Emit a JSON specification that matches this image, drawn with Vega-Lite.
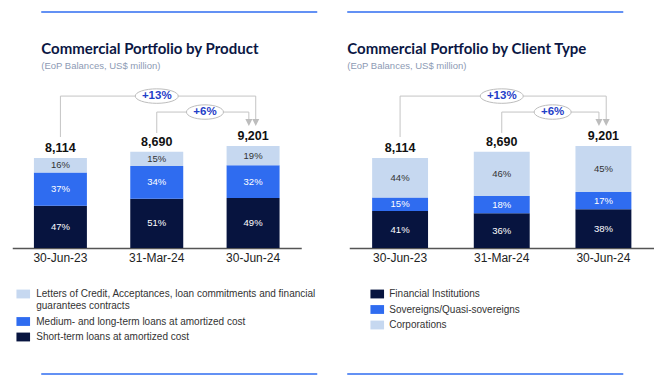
{
  "$schema": "https://vega.github.io/schema/vega-lite/v6.json",
  "background": "white",
  "padding": {"left": 12.25, "top": 11, "right": 0, "bottom": 0},
  "bounds": "flush",
  "spacing": 48,
  "config": {
    "view": {"stroke": null},
    "font": "Liberation Sans",
    "title": {"font": "Lato", "fontSize": 15, "fontWeight": "bold", "color": "#0b1744", "subtitleFont": "Liberation Sans", "subtitleFontSize": 9.5, "subtitleColor": "#8d9ab4", "subtitlePadding": 4, "anchor": "start", "frame": "group", "offset": -59},
    "axisX": {"title": null, "labelFont": "Liberation Sans", "labelFontSize": 12, "labelColor": "#222222", "domainColor": "#555555", "domainWidth": 1.5, "ticks": false, "labelPadding": 4, "labelAngle": 0},
    "legend": {"orient": "none", "symbolType": "M-1,-0.65H1V0.65H-1Z", "symbolSize": 185, "symbolStrokeWidth": 0, "labelFont": "Liberation Sans", "labelFontSize": 10, "labelColor": "#333333", "labelLimit": 400, "rowPadding": 3.5, "padding": 0}
  },
  "resolve": {"scale": {"x": "independent", "y": "independent", "color": "independent"}, "legend": {"color": "independent"}},
  "hconcat": [
    {
      "width": 289,
      "height": 168,
      "title": {"text": "Commercial Portfolio by Product", "subtitle": "(EoP Balances, US$ million)", "dx": 29},
      "layer": [
        {
          "data": {"values": [
            {"date": "30-Jun-23", "product": "Short-term loans at amortized cost", "k": 1, "value": 3814, "pct": "47%"},
            {"date": "30-Jun-23", "product": "Medium- and long-term loans at amortized cost", "k": 2, "value": 3002, "pct": "37%"},
            {"date": "30-Jun-23", "product": "Letters of Credit, Acceptances, loan commitments and financial guarantees contracts", "k": 3, "value": 1298, "pct": "16%"},
            {"date": "31-Mar-24", "product": "Short-term loans at amortized cost", "k": 1, "value": 4432, "pct": "51%"},
            {"date": "31-Mar-24", "product": "Medium- and long-term loans at amortized cost", "k": 2, "value": 2955, "pct": "34%"},
            {"date": "31-Mar-24", "product": "Letters of Credit, Acceptances, loan commitments and financial guarantees contracts", "k": 3, "value": 1303, "pct": "15%"},
            {"date": "30-Jun-24", "product": "Short-term loans at amortized cost", "k": 1, "value": 4508, "pct": "49%"},
            {"date": "30-Jun-24", "product": "Medium- and long-term loans at amortized cost", "k": 2, "value": 2944, "pct": "32%"},
            {"date": "30-Jun-24", "product": "Letters of Credit, Acceptances, loan commitments and financial guarantees contracts", "k": 3, "value": 1749, "pct": "19%"}
          ]},
          "transform": [
            {"stack": "value", "groupby": ["date"], "sort": [{"field": "k", "order": "ascending"}], "as": ["v0", "v1"]},
            {"calculate": "(datum.v0 + datum.v1) / 2", "as": "mid"}
          ],
          "layer": [
            {
              "mark": {"type": "bar"},
              "encoding": {
                "x": {"field": "date", "type": "ordinal", "scale": {"domain": ["30-Jun-23", "31-Mar-24", "30-Jun-24"], "paddingInner": 0.45, "paddingOuter": 0.225}, "axis": {"title": null}},
                "y": {"field": "v1", "type": "quantitative", "scale": {"domain": [0, 15150], "nice": false}, "axis": null},
                "y2": {"field": "v0"},
                "color": {"field": "product", "type": "nominal",
                  "scale": {"domain": ["Letters of Credit, Acceptances, loan commitments and financial guarantees contracts", "Medium- and long-term loans at amortized cost", "Short-term loans at amortized cost"], "range": ["#c6d8f0", "#2f6cf0", "#07143f"]},
                  "legend": {"title": null, "legendX": 4, "legendY": 207, "labelOffset": 6,
                    "labelExpr": "datum.label == 'Letters of Credit, Acceptances, loan commitments and financial guarantees contracts' ? ['Letters of Credit, Acceptances, loan commitments and financial', ' guarantees contracts'] : datum.label"}}
              }
            },
            {
              "mark": {"type": "text", "font": "Liberation Sans", "fontSize": 9.5},
              "encoding": {
                "x": {"field": "date", "type": "ordinal"},
                "y": {"field": "mid", "type": "quantitative"},
                "text": {"field": "pct"},
                "color": {"condition": {"test": "datum.k == 3", "value": "#333333"}, "value": "#ffffff"}
              }
            },
            {
              "mark": {"type": "text", "font": "Liberation Sans", "fontSize": 12.5, "fontWeight": "bold", "dy": -10, "color": "#111111"},
              "encoding": {
                "x": {"field": "date", "type": "ordinal"},
                "y": {"aggregate": "sum", "field": "value", "type": "quantitative"},
                "text": {"aggregate": "sum", "field": "value", "type": "quantitative", "format": ","}
              }
            }
          ]
        },
        {
          "data": {"values": [{}]},
          "layer": [
            {"mark": {"type": "rule", "color": "#2f6cf0", "strokeWidth": 1.5}, "encoding": {"x": {"datum": "30-Jun-23", "type": "ordinal", "bandPosition": 0.138}, "x2": {"datum": "30-Jun-24", "bandPosition": 1.711}, "y": {"datum": 21282, "type": "quantitative"}}},
            {"mark": {"type": "rule", "color": "#2f6cf0", "strokeWidth": 1.5}, "encoding": {"x": {"datum": "30-Jun-23", "type": "ordinal", "bandPosition": 0.138}, "x2": {"datum": "30-Jun-24", "bandPosition": 1.711}, "y": {"datum": -11362, "type": "quantitative"}}},
            {"mark": {"type": "rule", "color": "#c4c4c4", "strokeWidth": 1}, "encoding": {"x": {"datum": "30-Jun-23", "type": "ordinal", "bandPosition": 0.5}, "x2": {"datum": "30-Jun-24", "bandPosition": 0.55}, "y": {"datum": 13700, "type": "quantitative"}}},
            {"mark": {"type": "rule", "color": "#c4c4c4", "strokeWidth": 1}, "encoding": {"x": {"datum": "30-Jun-23", "type": "ordinal", "bandPosition": 0.5}, "y": {"datum": 13700, "type": "quantitative"}, "y2": {"datum": 10010}}},
            {"mark": {"type": "rule", "color": "#c4c4c4", "strokeWidth": 1}, "encoding": {"x": {"datum": "30-Jun-24", "type": "ordinal", "bandPosition": 0.55}, "y": {"datum": 13700, "type": "quantitative"}, "y2": {"datum": 11630}}},
            {"mark": {"type": "rule", "color": "#c4c4c4", "strokeWidth": 1}, "encoding": {"x": {"datum": "31-Mar-24", "type": "ordinal", "bandPosition": 0.5}, "x2": {"datum": "30-Jun-24", "bandPosition": 0.42}, "y": {"datum": 12260, "type": "quantitative"}}},
            {"mark": {"type": "rule", "color": "#c4c4c4", "strokeWidth": 1}, "encoding": {"x": {"datum": "31-Mar-24", "type": "ordinal", "bandPosition": 0.5}, "y": {"datum": 12260, "type": "quantitative"}, "y2": {"datum": 10370}}},
            {"mark": {"type": "rule", "color": "#c4c4c4", "strokeWidth": 1}, "encoding": {"x": {"datum": "30-Jun-24", "type": "ordinal", "bandPosition": 0.42}, "y": {"datum": 12260, "type": "quantitative"}, "y2": {"datum": 11630}}},
            {"mark": {"type": "point", "shape": "M-1,-1L1,-1L0,1Z", "size": 49, "filled": true, "color": "#bdbdbd", "opacity": 1}, "encoding": {"x": {"datum": "30-Jun-24", "type": "ordinal", "bandPosition": 0.55}, "y": {"datum": 11318, "type": "quantitative"}}},
            {"mark": {"type": "point", "shape": "M-1,-1L1,-1L0,1Z", "size": 49, "filled": true, "color": "#bdbdbd", "opacity": 1}, "encoding": {"x": {"datum": "30-Jun-24", "type": "ordinal", "bandPosition": 0.42}, "y": {"datum": 11318, "type": "quantitative"}}},
            {"mark": {"type": "point", "shape": "M-1,0A1,0.337,0,1,0,1,0A1,0.337,0,1,0,-1,0Z", "size": 1849, "filled": true, "fill": "#ffffff", "stroke": "#bdbdbd", "strokeWidth": 1, "opacity": 1}, "encoding": {"x": {"datum": "31-Mar-24", "type": "ordinal", "bandPosition": 0.5}, "y": {"datum": 13700, "type": "quantitative"}}},
            {"mark": {"type": "point", "shape": "M-1,0A1,0.39,0,1,0,1,0A1,0.39,0,1,0,-1,0Z", "size": 1369, "filled": true, "fill": "#ffffff", "stroke": "#bdbdbd", "strokeWidth": 1, "opacity": 1}, "encoding": {"x": {"datum": "31-Mar-24", "type": "ordinal", "bandPosition": 1.41}, "y": {"datum": 12260, "type": "quantitative"}}},
            {"mark": {"type": "text", "font": "Liberation Sans", "fontSize": 11.5, "fontWeight": "bold", "color": "#1f40c8"}, "encoding": {"x": {"datum": "31-Mar-24", "type": "ordinal", "bandPosition": 0.5}, "y": {"datum": 13700, "type": "quantitative"}, "text": {"value": "+13%"}}},
            {"mark": {"type": "text", "font": "Liberation Sans", "fontSize": 11.5, "fontWeight": "bold", "color": "#1f40c8"}, "encoding": {"x": {"datum": "31-Mar-24", "type": "ordinal", "bandPosition": 1.41}, "y": {"datum": 12260, "type": "quantitative"}, "text": {"value": "+6%"}}}
          ]
        }
      ]
    },
    {
      "width": 305,
      "height": 168,
      "title": {"text": "Commercial Portfolio by Client Type", "subtitle": "(EoP Balances, US$ million)", "dx": -2},
      "layer": [
        {
          "data": {"values": [
            {"date": "30-Jun-23", "client": "Financial Institutions", "k": 1, "value": 3327, "pct": "41%"},
            {"date": "30-Jun-23", "client": "Sovereigns/Quasi-sovereigns", "k": 2, "value": 1217, "pct": "15%"},
            {"date": "30-Jun-23", "client": "Corporations", "k": 3, "value": 3570, "pct": "44%"},
            {"date": "31-Mar-24", "client": "Financial Institutions", "k": 1, "value": 3128, "pct": "36%"},
            {"date": "31-Mar-24", "client": "Sovereigns/Quasi-sovereigns", "k": 2, "value": 1564, "pct": "18%"},
            {"date": "31-Mar-24", "client": "Corporations", "k": 3, "value": 3998, "pct": "46%"},
            {"date": "30-Jun-24", "client": "Financial Institutions", "k": 1, "value": 3496, "pct": "38%"},
            {"date": "30-Jun-24", "client": "Sovereigns/Quasi-sovereigns", "k": 2, "value": 1564, "pct": "17%"},
            {"date": "30-Jun-24", "client": "Corporations", "k": 3, "value": 4141, "pct": "45%"}
          ]},
          "transform": [
            {"stack": "value", "groupby": ["date"], "sort": [{"field": "k", "order": "ascending"}], "as": ["v0", "v1"]},
            {"calculate": "(datum.v0 + datum.v1) / 2", "as": "mid"}
          ],
          "layer": [
            {
              "mark": {"type": "bar"},
              "encoding": {
                "x": {"field": "date", "type": "ordinal", "scale": {"domain": ["30-Jun-23", "31-Mar-24", "30-Jun-24"], "paddingInner": 0.45, "paddingOuter": 0.225}, "axis": {"title": null}},
                "y": {"field": "v1", "type": "quantitative", "scale": {"domain": [0, 15150], "nice": false}, "axis": null},
                "y2": {"field": "v0"},
                "color": {"field": "client", "type": "nominal",
                  "scale": {"domain": ["Financial Institutions", "Sovereigns/Quasi-sovereigns", "Corporations"], "range": ["#07143f", "#2f6cf0", "#c6d8f0"]},
                  "legend": {"title": null, "legendX": 21, "legendY": 207, "labelOffset": 5}}
              }
            },
            {
              "mark": {"type": "text", "font": "Liberation Sans", "fontSize": 9.5},
              "encoding": {
                "x": {"field": "date", "type": "ordinal"},
                "y": {"field": "mid", "type": "quantitative"},
                "text": {"field": "pct"},
                "color": {"condition": {"test": "datum.k == 3", "value": "#333333"}, "value": "#ffffff"}
              }
            },
            {
              "mark": {"type": "text", "font": "Liberation Sans", "fontSize": 12.5, "fontWeight": "bold", "dy": -10, "color": "#111111"},
              "encoding": {
                "x": {"field": "date", "type": "ordinal"},
                "y": {"aggregate": "sum", "field": "value", "type": "quantitative"},
                "text": {"aggregate": "sum", "field": "value", "type": "quantitative", "format": ","}
              }
            }
          ]
        },
        {
          "data": {"values": [{}]},
          "layer": [
            {"mark": {"type": "rule", "color": "#2f6cf0", "strokeWidth": 1.5}, "encoding": {"x": {"datum": "30-Jun-23", "type": "ordinal", "bandPosition": -0.445}, "x2": {"datum": "30-Jun-24", "bandPosition": 0.855}, "y": {"datum": 21282, "type": "quantitative"}}},
            {"mark": {"type": "rule", "color": "#2f6cf0", "strokeWidth": 1.5}, "encoding": {"x": {"datum": "30-Jun-23", "type": "ordinal", "bandPosition": -0.445}, "x2": {"datum": "30-Jun-24", "bandPosition": 0.855}, "y": {"datum": -11362, "type": "quantitative"}}},
            {"mark": {"type": "rule", "color": "#c4c4c4", "strokeWidth": 1}, "encoding": {"x": {"datum": "30-Jun-23", "type": "ordinal", "bandPosition": 0.5}, "x2": {"datum": "30-Jun-24", "bandPosition": 0.55}, "y": {"datum": 13700, "type": "quantitative"}}},
            {"mark": {"type": "rule", "color": "#c4c4c4", "strokeWidth": 1}, "encoding": {"x": {"datum": "30-Jun-23", "type": "ordinal", "bandPosition": 0.5}, "y": {"datum": 13700, "type": "quantitative"}, "y2": {"datum": 10010}}},
            {"mark": {"type": "rule", "color": "#c4c4c4", "strokeWidth": 1}, "encoding": {"x": {"datum": "30-Jun-24", "type": "ordinal", "bandPosition": 0.55}, "y": {"datum": 13700, "type": "quantitative"}, "y2": {"datum": 11630}}},
            {"mark": {"type": "rule", "color": "#c4c4c4", "strokeWidth": 1}, "encoding": {"x": {"datum": "31-Mar-24", "type": "ordinal", "bandPosition": 0.5}, "x2": {"datum": "30-Jun-24", "bandPosition": 0.42}, "y": {"datum": 12260, "type": "quantitative"}}},
            {"mark": {"type": "rule", "color": "#c4c4c4", "strokeWidth": 1}, "encoding": {"x": {"datum": "31-Mar-24", "type": "ordinal", "bandPosition": 0.5}, "y": {"datum": 12260, "type": "quantitative"}, "y2": {"datum": 10370}}},
            {"mark": {"type": "rule", "color": "#c4c4c4", "strokeWidth": 1}, "encoding": {"x": {"datum": "30-Jun-24", "type": "ordinal", "bandPosition": 0.42}, "y": {"datum": 12260, "type": "quantitative"}, "y2": {"datum": 11630}}},
            {"mark": {"type": "point", "shape": "M-1,-1L1,-1L0,1Z", "size": 49, "filled": true, "color": "#bdbdbd", "opacity": 1}, "encoding": {"x": {"datum": "30-Jun-24", "type": "ordinal", "bandPosition": 0.55}, "y": {"datum": 11318, "type": "quantitative"}}},
            {"mark": {"type": "point", "shape": "M-1,-1L1,-1L0,1Z", "size": 49, "filled": true, "color": "#bdbdbd", "opacity": 1}, "encoding": {"x": {"datum": "30-Jun-24", "type": "ordinal", "bandPosition": 0.42}, "y": {"datum": 11318, "type": "quantitative"}}},
            {"mark": {"type": "point", "shape": "M-1,0A1,0.337,0,1,0,1,0A1,0.337,0,1,0,-1,0Z", "size": 1849, "filled": true, "fill": "#ffffff", "stroke": "#bdbdbd", "strokeWidth": 1, "opacity": 1}, "encoding": {"x": {"datum": "31-Mar-24", "type": "ordinal", "bandPosition": 0.5}, "y": {"datum": 13700, "type": "quantitative"}}},
            {"mark": {"type": "point", "shape": "M-1,0A1,0.39,0,1,0,1,0A1,0.39,0,1,0,-1,0Z", "size": 1369, "filled": true, "fill": "#ffffff", "stroke": "#bdbdbd", "strokeWidth": 1, "opacity": 1}, "encoding": {"x": {"datum": "31-Mar-24", "type": "ordinal", "bandPosition": 1.41}, "y": {"datum": 12260, "type": "quantitative"}}},
            {"mark": {"type": "text", "font": "Liberation Sans", "fontSize": 11.5, "fontWeight": "bold", "color": "#1f40c8"}, "encoding": {"x": {"datum": "31-Mar-24", "type": "ordinal", "bandPosition": 0.5}, "y": {"datum": 13700, "type": "quantitative"}, "text": {"value": "+13%"}}},
            {"mark": {"type": "text", "font": "Liberation Sans", "fontSize": 11.5, "fontWeight": "bold", "color": "#1f40c8"}, "encoding": {"x": {"datum": "31-Mar-24", "type": "ordinal", "bandPosition": 1.41}, "y": {"datum": 12260, "type": "quantitative"}, "text": {"value": "+6%"}}}
          ]
        }
      ]
    }
  ]
}
